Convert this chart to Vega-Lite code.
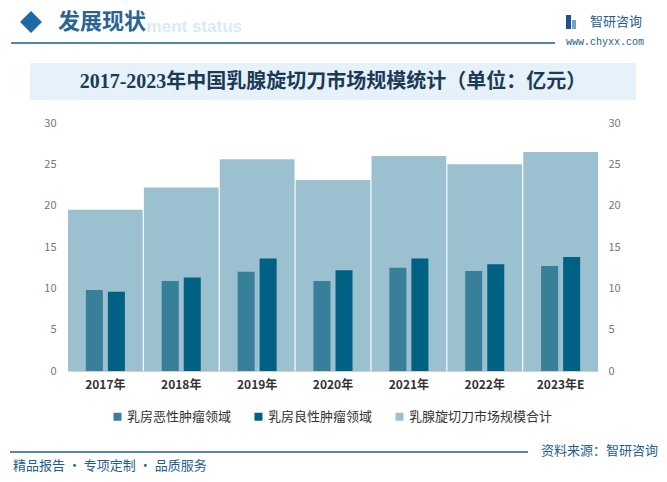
{
  "$schema": "https://vega.github.io/schema/vega-lite/v6.json",
  "autosize": {"type": "none"},
  "width": 530,
  "height": 248,
  "padding": {"left": 68, "top": 123, "right": 69, "bottom": 111},
  "background": "#ffffff",
  "config": {"view": {"stroke": null}, "font": "Noto Sans CJK SC"},
  "datasets": {
    "main": [
      {"year": "2017年", "series": "乳房恶性肿瘤领域", "value": 9.8},
      {"year": "2017年", "series": "乳房良性肿瘤领域", "value": 9.6},
      {"year": "2017年", "series": "乳腺旋切刀市场规模合计", "value": 19.5},
      {"year": "2018年", "series": "乳房恶性肿瘤领域", "value": 10.9},
      {"year": "2018年", "series": "乳房良性肿瘤领域", "value": 11.3},
      {"year": "2018年", "series": "乳腺旋切刀市场规模合计", "value": 22.2},
      {"year": "2019年", "series": "乳房恶性肿瘤领域", "value": 12.0},
      {"year": "2019年", "series": "乳房良性肿瘤领域", "value": 13.6},
      {"year": "2019年", "series": "乳腺旋切刀市场规模合计", "value": 25.6},
      {"year": "2020年", "series": "乳房恶性肿瘤领域", "value": 10.9},
      {"year": "2020年", "series": "乳房良性肿瘤领域", "value": 12.2},
      {"year": "2020年", "series": "乳腺旋切刀市场规模合计", "value": 23.1},
      {"year": "2021年", "series": "乳房恶性肿瘤领域", "value": 12.5},
      {"year": "2021年", "series": "乳房良性肿瘤领域", "value": 13.6},
      {"year": "2021年", "series": "乳腺旋切刀市场规模合计", "value": 26.0},
      {"year": "2022年", "series": "乳房恶性肿瘤领域", "value": 12.1},
      {"year": "2022年", "series": "乳房良性肿瘤领域", "value": 12.9},
      {"year": "2022年", "series": "乳腺旋切刀市场规模合计", "value": 25.0},
      {"year": "2023年E", "series": "乳房恶性肿瘤领域", "value": 12.7},
      {"year": "2023年E", "series": "乳房良性肿瘤领域", "value": 13.8},
      {"year": "2023年E", "series": "乳腺旋切刀市场规模合计", "value": 26.5}
    ]
  },
  "layer": [
    {
      "data": {"values": [{}]},
      "mark": {"type": "rect", "fill": "#e6f1f9"},
      "encoding": {"x": {"value": -38}, "x2": {"value": 568}, "y": {"value": -60}, "y2": {"value": -23}}
    },
    {
      "data": {"values": [{}]},
      "mark": {"type": "text", "text": "2017-2023年中国乳腺旋切刀市场规模统计（单位：亿元）", "font": "Liberation Serif, Noto Sans CJK SC", "fontSize": 20, "fontWeight": "bold", "color": "#1b3a57", "align": "center", "baseline": "middle"},
      "encoding": {"x": {"value": 265}, "y": {"value": -41}}
    },
    {
      "data": {"values": [{}]},
      "mark": {"type": "text", "text": "ment status", "font": "Liberation Sans", "fontSize": 17, "fontWeight": "bold", "color": "#dde9f3", "align": "right", "baseline": "middle"},
      "encoding": {"x": {"value": 174}, "y": {"value": -96}}
    },
    {
      "data": {"values": [{}]},
      "mark": {"type": "text", "text": "发展现状", "fontSize": 22, "fontWeight": "bold", "color": "#2a6496", "align": "left", "baseline": "middle"},
      "encoding": {"x": {"value": -10}, "y": {"value": -101}}
    },
    {
      "data": {"values": [{}]},
      "mark": {"type": "point", "shape": "diamond", "filled": true, "size": 480, "color": "#1f6aa5", "opacity": 1},
      "encoding": {"x": {"value": -37}, "y": {"value": -101}}
    },
    {
      "data": {"values": [{}]},
      "mark": {"type": "rule", "color": "#1f5e8c", "strokeWidth": 1.5},
      "encoding": {"x": {"value": -57}, "x2": {"value": 487}, "y": {"value": -80}}
    },
    {
      "data": {"values": [{}]},
      "mark": {"type": "text", "text": "智研咨询", "fontSize": 13, "color": "#1f5e8c", "align": "left", "baseline": "middle"},
      "encoding": {"x": {"value": 522}, "y": {"value": -101}}
    },
    {
      "data": {"values": [{}]},
      "mark": {"type": "rect", "fill": "#1f4f8c"},
      "encoding": {"x": {"value": 498}, "x2": {"value": 503}, "y": {"value": -108}, "y2": {"value": -94}}
    },
    {
      "data": {"values": [{}]},
      "mark": {"type": "rect", "fill": "#6fa3cf"},
      "encoding": {"x": {"value": 504}, "x2": {"value": 508}, "y": {"value": -103}, "y2": {"value": -94}}
    },
    {
      "data": {"values": [{}]},
      "mark": {"type": "text", "text": "www.chyxx.com", "font": "Liberation Mono", "fontSize": 10, "color": "#1f5e8c", "align": "right", "baseline": "middle"},
      "encoding": {"x": {"value": 576}, "y": {"value": -81}}
    },
    {
      "data": {"values": [{}]},
      "mark": {"type": "rule", "color": "#1f5e8c", "strokeWidth": 1.5},
      "encoding": {"x": {"value": -58}, "x2": {"value": 460}, "y": {"value": 329}}
    },
    {
      "data": {"values": [{}]},
      "mark": {"type": "text", "text": "精品报告 · 专项定制 · 品质服务", "fontSize": 13, "color": "#1f5e8c", "align": "left", "baseline": "middle"},
      "encoding": {"x": {"value": -55}, "y": {"value": 343}}
    },
    {
      "data": {"values": [{}]},
      "mark": {"type": "text", "text": "资料来源：智研咨询", "fontSize": 13, "color": "#1f5e8c", "align": "right", "baseline": "middle"},
      "encoding": {"x": {"value": 590}, "y": {"value": 328}}
    },
    {
      "data": {"name": "main"},
      "transform": [{"filter": "datum.series === '乳腺旋切刀市场规模合计'"}],
      "mark": {"type": "bar"},
      "encoding": {
        "x": {"field": "year", "type": "nominal", "sort": null, "scale": {"paddingInner": 0.015, "paddingOuter": 0},
              "axis": {"title": null, "labelAngle": 0, "labelFontSize": 12, "labelFontWeight": "bold", "labelColor": "#333333", "ticks": false, "domainColor": "#d0d0d0", "labelPadding": 8}},
        "y": {"field": "value", "type": "quantitative", "scale": {"domain": [0, 30]},
              "axis": {"title": null, "orient": "left", "values": [0, 5, 10, 15, 20, 25, 30], "grid": false, "ticks": false, "domain": false, "labelColor": "#777777", "labelFontSize": 11, "labelPadding": 12}},
        "color": {"field": "series", "type": "nominal",
                  "scale": {"domain": ["乳房恶性肿瘤领域", "乳房良性肿瘤领域", "乳腺旋切刀市场规模合计"], "range": ["#387f99", "#006185", "#9bc1d0"]},
                  "legend": {"title": null, "orient": "none", "legendX": 43, "legendY": 287, "direction": "horizontal", "columns": 3, "symbolType": "square", "symbolSize": 64, "labelFontSize": 13, "labelColor": "#333333", "columnPadding": 20, "labelOffset": 3}}
      }
    },
    {
      "data": {"name": "main"},
      "transform": [{"filter": "datum.series !== '乳腺旋切刀市场规模合计'"}],
      "mark": {"type": "bar"},
      "encoding": {
        "x": {"field": "year", "type": "nominal", "sort": null},
        "xOffset": {"field": "series", "type": "nominal", "scale": {"paddingInner": 0.227, "paddingOuter": 0.81}},
        "y": {"field": "value", "type": "quantitative",
              "axis": {"title": null, "orient": "right", "values": [0, 5, 10, 15, 20, 25, 30], "grid": false, "ticks": false, "domain": false, "labelColor": "#777777", "labelFontSize": 11, "labelPadding": 10}},
        "color": {"field": "series", "type": "nominal"}
      }
    }
  ],
  "resolve": {"axis": {"y": "independent"}}
}
